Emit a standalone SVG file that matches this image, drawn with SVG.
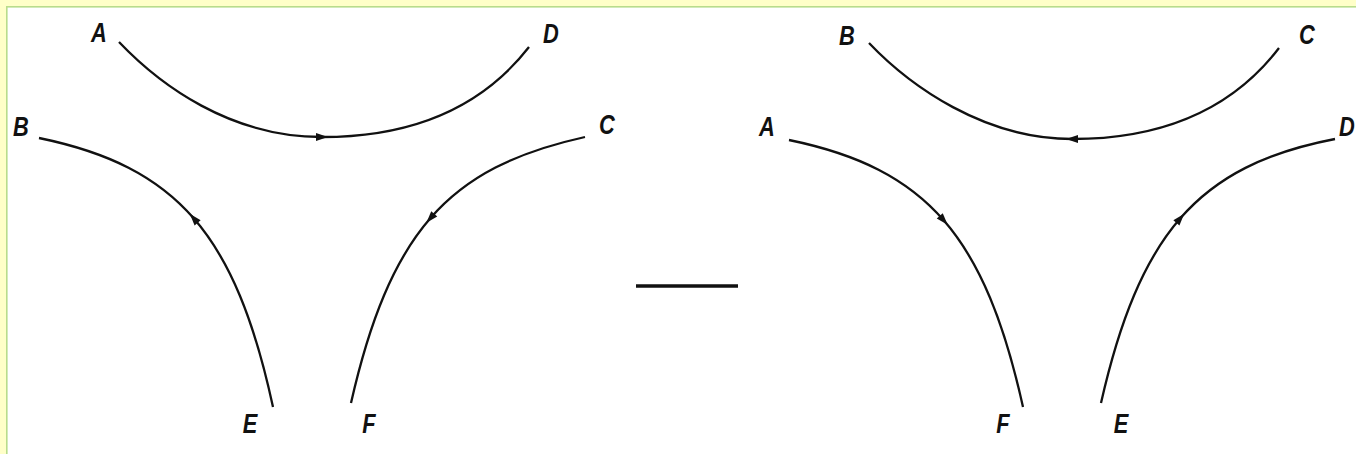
<svg xmlns="http://www.w3.org/2000/svg" width="1356" height="454" viewBox="0 0 1356 454">
  <style>
    .lbl { font-family: "Liberation Sans", Arial, sans-serif; font-size: 28px; font-style: italic; font-weight: bold; fill: #111; text-anchor: middle; }
    .curve { fill: none; stroke: #111; stroke-width: 2.3; marker-mid: url(#arr); }
  </style>
  <defs>
    <marker id="arr" markerUnits="userSpaceOnUse" markerWidth="16" markerHeight="12" refX="0" refY="0" viewBox="-8 -6 16 12" orient="auto" overflow="visible">
      <path d="M-6,-4 L6,0 L-6,4 Z" fill="#111"/>
    </marker>
  </defs>
  <rect x="0" y="0" width="1356" height="454" fill="#ffffff"/>
  <g id="frame">
    <rect x="0" y="0" width="1356" height="6" fill="#ffffc8"/>
    <rect x="0" y="0" width="6" height="454" fill="#ffffc8"/>
    <rect x="6" y="6" width="1350" height="1.6" fill="#b8dc8c"/>
    <rect x="6" y="6" width="1.6" height="448" fill="#b8dc8c"/>
  </g>
  <g id="connectors">
    <!-- left panel -->
    <path id="c-AD" class="curve" d="M119,42 C160,85 230,137 322,137 C410,137 480,110 529,47"/>
    <path id="c-EB" class="curve" d="M273,407 C254.25,320.5 230.25,260.375 193.69,218.31 C157.125,176.25 108,152.25 39,138"/>
    <path id="c-CF" class="curve" d="M585,137 C516,152.25 466.875,176.25 430.31,218.31 C393.75,260.375 369.75,320.5 351,403"/>
    <!-- right panel -->
    <path id="c-CB" class="curve" d="M1279,48 C1230,112 1160,139 1072,139 C984,139 910,86 869,43"/>
    <path id="c-AF" class="curve" d="M789,140 C858,154.25 907.125,178.25 943.69,220.31 C980.25,262.375 1004.25,322.5 1023,407"/>
    <path id="c-ED" class="curve" d="M1101,403 C1119.75,320.5 1143.75,260.375 1180.31,218.31 C1216.875,176.25 1266,152.25 1335,139"/>
    <!-- minus sign -->
    <line id="minus" x1="636" y1="286" x2="738" y2="286" stroke="#111" stroke-width="3.5"/>
  </g>
  <g id="node-L-A"><text class="lbl" transform="translate(99,42) scale(0.78,1)">A</text></g>
  <g id="node-L-D"><text class="lbl" transform="translate(551,43) scale(0.78,1)">D</text></g>
  <g id="node-L-B"><text class="lbl" transform="translate(21,136) scale(0.78,1)">B</text></g>
  <g id="node-L-C"><text class="lbl" transform="translate(607,134) scale(0.78,1)">C</text></g>
  <g id="node-L-E"><text class="lbl" transform="translate(250,433) scale(0.78,1)">E</text></g>
  <g id="node-L-F"><text class="lbl" transform="translate(369,433) scale(0.78,1)">F</text></g>
  <g id="node-R-B"><text class="lbl" transform="translate(847,45) scale(0.78,1)">B</text></g>
  <g id="node-R-C"><text class="lbl" transform="translate(1307,44) scale(0.78,1)">C</text></g>
  <g id="node-R-A"><text class="lbl" transform="translate(767,136) scale(0.78,1)">A</text></g>
  <g id="node-R-D"><text class="lbl" transform="translate(1347,136) scale(0.78,1)">D</text></g>
  <g id="node-R-F"><text class="lbl" transform="translate(1003,433) scale(0.78,1)">F</text></g>
  <g id="node-R-E"><text class="lbl" transform="translate(1121,433) scale(0.78,1)">E</text></g>
</svg>
